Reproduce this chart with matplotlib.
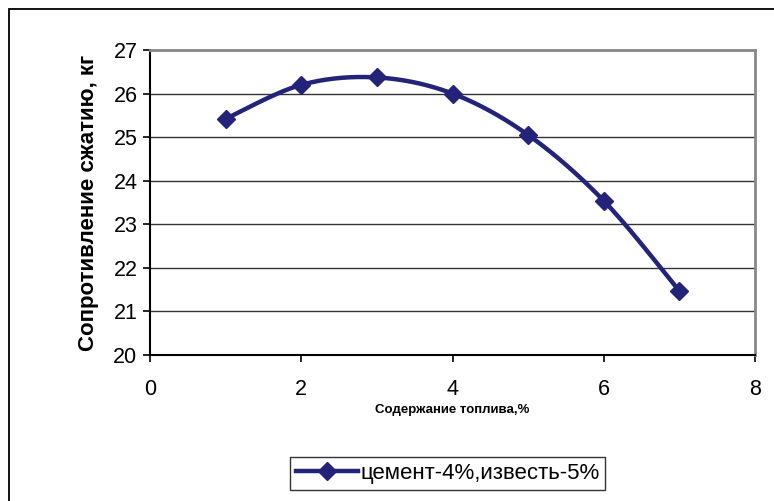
import numpy as np
import matplotlib
matplotlib.use("Agg")
import matplotlib.pyplot as plt
from matplotlib.lines import Line2D
from matplotlib.patches import Rectangle

# Fuel content (%) and compressive resistance (kg)
fuel_content = [1, 2, 3, 4, 5, 6, 7]
resistance = [25.42, 26.2, 26.37, 26.0, 25.05, 23.54, 21.47]
series_label = "цемент-4%,известь-5%"
x_ticks = [0, 2, 4, 6, 8]
y_ticks = [20, 21, 22, 23, 24, 25, 26, 27]
x_title = "Содержание топлива,%"
y_title = "Сопротивление сжатию, кг"

LINE_COLOR = "#23237a"
plt.rcParams["font.family"] = ["Liberation Sans", "DejaVu Sans"]


def smooth_curve(xs, ys, n=40):
    """Piecewise cubic Bezier through the points (Catmull-Rom style smoothing)."""
    xs = np.asarray(xs, float)
    ys = np.asarray(ys, float)
    pts = np.column_stack([xs, ys])
    out = []
    for i in range(len(pts) - 1):
        p0 = pts[i - 1] if i > 0 else pts[i]
        p1 = pts[i]
        p2 = pts[i + 1]
        p3 = pts[i + 2] if i + 2 < len(pts) else pts[i + 1]
        c1 = p1 + (p2 - p0) / 6.0
        c2 = p2 - (p3 - p1) / 6.0
        t = np.linspace(0, 1, n)[:, None]
        seg = ((1 - t) ** 3) * p1 + 3 * ((1 - t) ** 2) * t * c1 \
            + 3 * (1 - t) * t ** 2 * c2 + t ** 3 * p2
        out.append(seg if i == 0 else seg[1:])
    curve = np.vstack(out)
    return curve[:, 0], curve[:, 1]


fig = plt.figure(figsize=(7.74, 5.01), dpi=100)
ax = fig.add_axes([150 / 774, 1 - 355 / 501, 605 / 774, 305 / 501])

# Outer chart frame
fig.patches.append(Rectangle((9 / 774, -0.05), 1.2, 1 - 9 / 501 + 0.05,
                             transform=fig.transFigure, fill=False,
                             edgecolor="black", linewidth=1.3))

ax.set_xlim(0, 8)
ax.set_ylim(20, 27)
ax.set_xticks(x_ticks)
ax.set_yticks(y_ticks)
ax.tick_params(axis="both", direction="out", length=5, width=1.2,
               labelsize=15.5, color="black", pad=4)
ax.tick_params(axis="x", pad=12)

ax.yaxis.grid(True, color="#333333", linewidth=1.0)
ax.set_axisbelow(True)

for side in ("left", "bottom"):
    ax.spines[side].set_color("black")
    ax.spines[side].set_linewidth(1.5)
for side in ("top", "right"):
    ax.spines[side].set_color("#888888")
    ax.spines[side].set_linewidth(2.0)

sx, sy = smooth_curve(fuel_content, resistance)
ax.plot(sx, sy, color=LINE_COLOR, linewidth=3.2, solid_capstyle="round", zorder=3)
ax.plot(fuel_content, resistance, linestyle="none", marker="D",
        markersize=9.5, color=LINE_COLOR, zorder=4)

ax.set_xlabel(x_title, fontsize=9.5, fontweight="bold", labelpad=3)
ax.set_ylabel(y_title, fontsize=16, fontweight="bold", labelpad=10)

handle = Line2D([], [], color=LINE_COLOR, linewidth=3.2, marker="D",
                markersize=9.5)
leg = fig.legend([handle], [series_label], loc="center",
                 bbox_to_anchor=(447.5 / 774, 1 - 473.5 / 501),
                 fontsize=16, frameon=True, fancybox=False, shadow=False,
                 handlelength=2.8, handletextpad=0.1, borderpad=0.25,
                 borderaxespad=0)
leg.get_frame().set_edgecolor("black")
leg.get_frame().set_linewidth(1.0)

fig.savefig("out.png", dpi=100)
